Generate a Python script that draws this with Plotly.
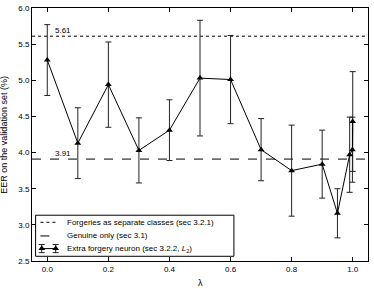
import plotly.graph_objects as go

lam = [0.0, 0.1, 0.2, 0.3, 0.4, 0.5, 0.6, 0.7, 0.8, 0.9, 0.95, 0.99, 0.999, 1.0]
eer = [5.28, 4.13, 4.94, 4.03, 4.31, 5.03, 5.01, 4.04, 3.75, 3.84, 3.16, 3.97, 4.04, 4.43]
err = [0.49, 0.49, 0.59, 0.45, 0.42, 0.80, 0.61, 0.43, 0.63, 0.47, 0.34, 0.52, 0.45, 0.69]
forg_sep = 5.61
genuine = 3.91
xr = [-0.05, 1.05]
legend_labels = ["Forgeries as separate classes (sec 3.2.1)",
                 "Genuine only (sec 3.1)",
                 "Extra forgery neuron (sec 3.2.2, <i>L</i><sub>2</sub>)"]

font = "Liberation Sans, Arial, sans-serif"
fig = go.Figure()
fig.add_trace(go.Scatter(x=xr, y=[forg_sep, forg_sep], mode="lines",
                         line=dict(color="black", width=1, dash="dot"), showlegend=False))
fig.add_trace(go.Scatter(x=xr, y=[genuine, genuine], mode="lines",
                         line=dict(color="black", width=1, dash="dash"), showlegend=False))
fig.add_trace(go.Scatter(x=lam, y=eer, mode="lines+markers",
                         line=dict(color="black", width=1),
                         marker=dict(symbol="triangle-up", size=6, color="black"),
                         error_y=dict(type="data", array=err, color="#222", thickness=1, width=3),
                         showlegend=False))

fig.add_annotation(x=0.02, y=forg_sep, text=f"{forg_sep:.2f}", showarrow=False,
                   xanchor="left", yanchor="bottom", yshift=-1, font=dict(size=8, family=font, color="black"))
fig.add_annotation(x=0.02, y=genuine, text=f"{genuine:.2f}", showarrow=False,
                   xanchor="left", yanchor="bottom", yshift=-1, font=dict(size=8, family=font, color="black"))

# manual legend (paper coordinates)
lx0, lx1, ly0, ly1 = 0.0107, 0.601, 0.0186, 0.181
rows = [0.153, 0.099, 0.049]
sx0, sx1, tx = 0.025, 0.074, 0.097
fig.add_shape(type="rect", xref="paper", yref="paper", x0=lx0, x1=lx1, y0=ly0, y1=ly1,
              line=dict(color="black", width=1), fillcolor="white", layer="below")
fig.add_shape(type="line", xref="paper", yref="paper", x0=sx0, x1=sx1, y0=rows[0], y1=rows[0],
              line=dict(color="black", width=1, dash="dot"), layer="below")
fig.add_shape(type="line", xref="paper", yref="paper", x0=sx0, x1=sx1, y0=rows[1], y1=rows[1],
              line=dict(color="black", width=1, dash="dash"), layer="below")
fig.add_trace(go.Scatter(x=[0.029, 0.0705], y=[rows[2], rows[2]], xaxis="x2", yaxis="y2",
                         mode="lines+markers", line=dict(color="black", width=1),
                         marker=dict(symbol="triangle-up", size=6, color="black"),
                         error_y=dict(type="constant", value=0.016, color="#222", thickness=1, width=3),
                         showlegend=False, hoverinfo="skip"))
for r, lab in zip(rows, legend_labels):
    fig.add_annotation(xref="paper", yref="paper", x=tx, y=r, text=lab, showarrow=False,
                       xanchor="left", yanchor="middle", font=dict(size=8, family=font, color="black"))

# axis titles
fig.add_annotation(xref="paper", yref="paper", x=0.5, y=-0.06, text="λ", showarrow=False,
                   xanchor="center", yanchor="top", font=dict(size=9, family=font, color="black"))
fig.add_annotation(xref="paper", yref="paper", x=-0.065, y=0.5, text="EER on the validation set (%)",
                   textangle=-90, showarrow=False, xanchor="right", yanchor="middle",
                   font=dict(size=9, family=font, color="black"))

axis_common = dict(showgrid=False, zeroline=False, showline=True, linecolor="black", linewidth=1,
                   mirror="allticks", ticks="inside", ticklen=4, tickcolor="black", automargin=False,
                   tickfont=dict(size=8, family=font, color="black"))
fig.update_xaxes(range=xr, tickvals=[0.0, 0.2, 0.4, 0.6, 0.8, 1.0], tickformat=".1f", **axis_common)
fig.update_yaxes(range=[2.5, 6.0], dtick=0.5, tickformat=".1f", **axis_common)

fig.update_layout(width=374, height=289, margin=dict(l=32, r=6, t=8, b=28),
                  plot_bgcolor="white", paper_bgcolor="white", showlegend=False,
                  xaxis2=dict(overlaying="x", range=[0, 1], visible=False, fixedrange=True),
                  yaxis2=dict(overlaying="y", range=[0, 1], visible=False, fixedrange=True))
fig.write_html("out.html", config={"displayModeBar": False},
               post_script="document.body.style.margin='0';document.body.style.padding='0';")
